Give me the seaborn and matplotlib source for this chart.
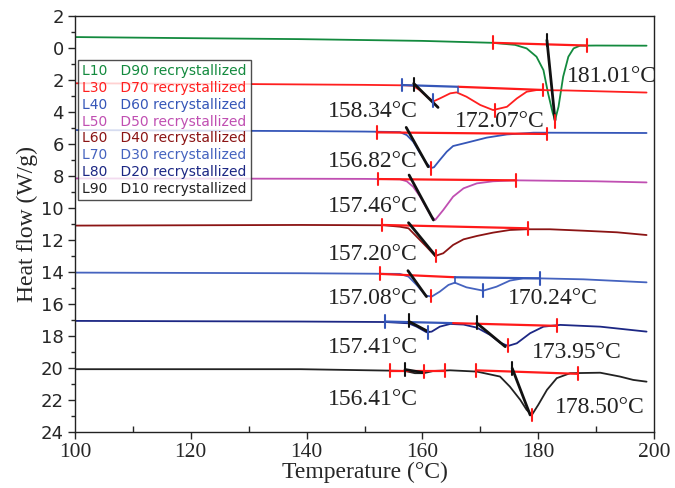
import numpy as np
import pandas as pd
import seaborn as sns
import matplotlib
matplotlib.use("Agg")
import matplotlib.pyplot as plt
from matplotlib.ticker import MultipleLocator, FuncFormatter
from matplotlib.lines import Line2D

# ---------------- data ----------------
samples = ["L10   D90 recrystallized", "L30   D70 recrystallized", "L40   D60 recrystallized",
           "L50   D50 recrystallized", "L60   D40 recrystallized", "L70   D30 recrystallized",
           "L80   D20 recrystallized", "L90   D10 recrystallized"]
colors = ["#138a3e", "#ff1f1f", "#3556b8", "#c04fb2", "#8b1414", "#4563bf", "#1c2784", "#222222"]

green_T = [100, 120, 139, 160, 172.1, 176, 178.0, 179.7, 180.9, 181.7, 182.5, 182.9, 183.5, 184.3, 185.2, 186.1, 187.2, 190, 198.7]
green_y = [-0.69, -0.62, -0.56, -0.45, -0.33, -0.2, 0.02, 0.54, 1.38, 2.83, 4.06, 4.5, 3.67, 1.79, 0.54, 0.02, -0.15, -0.16, -0.15]

red_T = [100, 130, 150, 157, 158.3, 159.5, 160.8, 161.9, 163.0, 164.8, 165.9, 167.6, 170.0, 172.2, 174.6, 176.3, 178.0, 179.7, 185, 198.7]
red_y = [2.2, 2.25, 2.3, 2.33, 2.35, 2.62, 3.05, 3.33, 3.15, 2.83, 2.77, 3.04, 3.56, 3.875, 3.67, 3.15, 2.73, 2.625, 2.65, 2.78]

blue40_T = [100, 139, 150, 156.1, 157.3, 158.4, 159.6, 160.7, 161.5, 162.0, 163.0, 164.2, 165.3, 167.6, 171.1, 174.6, 179.2, 190, 198.7]
blue40_y = [5.125, 5.19, 5.22, 5.25, 5.44, 5.85, 6.58, 7.2, 7.5, 7.45, 7.0, 6.48, 6.125, 5.92, 5.6, 5.4, 5.29, 5.3, 5.31]

mag_T = [100, 139, 150, 156.1, 157.3, 158.4, 159.6, 160.7, 161.5, 162.2, 163.6, 165.3, 167.1, 169.4, 172.2, 176.2, 190, 198.7]
mag_y = [8.15, 8.17, 8.18, 8.2, 8.33, 8.67, 9.29, 10.0, 10.5, 10.75, 10.125, 9.29, 8.77, 8.46, 8.33, 8.27, 8.33, 8.4]

dred_T = [100, 139, 153.4, 156.1, 157.6, 159.0, 160.7, 162.2, 163.6, 165.3, 167.1, 169.4, 172.2, 175.1, 178.0, 182.0, 187.8, 193.6, 198.7]
dred_y = [11.1, 11.06, 11.08, 11.17, 11.27, 11.79, 12.42, 13.0, 12.83, 12.31, 11.96, 11.75, 11.54, 11.375, 11.33, 11.33, 11.42, 11.52, 11.69]

b70_T = [100, 139, 156.1, 157.6, 159.0, 160.6, 161.6, 163.0, 164.5, 165.6, 167.6, 170.5, 172.8, 175.1, 177.4, 180.3, 187.8, 198.7]
b70_y = [14.04, 14.08, 14.12, 14.29, 14.81, 15.48, 15.54, 15.23, 14.81, 14.67, 14.96, 15.17, 14.92, 14.54, 14.4, 14.4, 14.46, 14.65]

navy_T = [100, 139, 153.6, 157.6, 159.0, 160.7, 161.6, 163.0, 164.8, 167.1, 169.4, 171.7, 173.4, 174.8, 176.3, 178.6, 180.9, 183.8, 190.7, 198.7]
navy_y = [17.06, 17.1, 17.13, 17.21, 17.42, 17.77, 17.73, 17.42, 17.25, 17.29, 17.48, 17.94, 18.42, 18.625, 18.46, 17.83, 17.42, 17.31, 17.42, 17.73]

black_T = [100, 139, 154.4, 157.0, 158.7, 160.2, 161.9, 164.8, 169.4, 173.4, 175.1, 176.9, 178.0, 178.9, 180.0, 181.5, 183.2, 185.5, 190.7, 194.1, 196.4, 198.7]
black_y = [20.08, 20.08, 20.17, 20.19, 20.33, 20.33, 20.19, 20.15, 20.23, 20.54, 21.17, 22.0, 22.625, 22.94, 22.31, 21.375, 20.64, 20.33, 20.3, 20.54, 20.75, 20.86]

curves_T = [green_T, red_T, blue40_T, mag_T, dred_T, b70_T, navy_T, black_T]
curves_y = [green_y, red_y, blue40_y, mag_y, dred_y, b70_y, navy_y, black_y]

# baselines: (T1, y1, T2, y2, colour key)
baselines = [
    (172.2, -0.33, 188.4, -0.16, "r"),
    (156.4, 2.31, 166.2, 2.42, "b"), (166.2, 2.42, 180.9, 2.62, "r"),
    (152.1, 5.27, 181.5, 5.37, "r"),
    (152.3, 8.19, 176.2, 8.27, "r"),
    (153.0, 11.06, 178.3, 11.27, "r"),
    (152.7, 14.12, 165.6, 14.33, "r"), (165.6, 14.33, 180.3, 14.4, "b"),
    (153.6, 17.1, 165.3, 17.2, "b"), (165.3, 17.2, 183.2, 17.37, "r"),
    (154.4, 20.17, 163.9, 20.17, "r"), (169.2, 20.15, 186.8, 20.37, "r"),
]
# tangents (black)
tangents = [
    (181.5, -0.5, 182.9, 4.5),
    (158.5, 2.21, 162.7, 3.71),
    (157.2, 4.96, 161.0, 7.42),
    (157.7, 7.94, 161.9, 10.75),
    (157.6, 10.92, 162.3, 13.0),
    (157.5, 13.92, 160.7, 15.54),
    (157.7, 17.1, 161.0, 17.73), (169.4, 17.2, 174.3, 18.67),
    (157.0, 20.1, 160.2, 20.3), (175.5, 20.02, 178.6, 22.94),
]
# small vertical marks: (T, y, colour key)
marks = [
    (172.2, -0.33, "r"), (188.4, -0.16, "r"), (182.9, 4.6, "r"), (181.5, -0.5, "k"),
    (156.4, 2.31, "b"), (161.9, 3.3, "b"), (180.9, 2.62, "r"), (172.5, 3.88, "r"), (158.5, 2.28, "k"),
    (152.1, 5.27, "r"), (181.5, 5.37, "r"), (161.5, 7.55, "r"),
    (152.3, 8.19, "r"), (176.2, 8.27, "r"),
    (153.0, 11.06, "r"), (178.3, 11.27, "r"), (162.3, 13.0, "r"),
    (152.7, 14.12, "r"), (161.5, 15.5, "r"), (180.3, 14.4, "b"), (170.4, 15.17, "b"),
    (153.6, 17.1, "b"), (160.9, 17.77, "b"), (183.2, 17.37, "r"), (174.8, 18.6, "r"),
    (157.7, 17.05, "k"), (169.4, 17.15, "k"),
    (154.4, 20.17, "r"), (160.2, 20.2, "r"), (163.9, 20.17, "r"), (169.2, 20.15, "r"),
    (186.8, 20.37, "r"), (178.9, 22.94, "r"), (157.0, 20.1, "k"), (175.5, 20.05, "k"),
]
# connector ticks from baseline to curve (blue)
connectors = [(166.2, 2.42, 2.77), (165.6, 14.33, 14.67)]

ann_text = ["181.01°C", "158.34°C", "172.07°C", "156.82°C", "157.46°C", "157.20°C",
            "157.08°C", "170.24°C", "157.41°C", "173.95°C", "156.41°C", "178.50°C"]
ann_T = [185.0, 143.7, 165.6, 143.7, 143.7, 143.7, 143.7, 174.8, 143.7, 178.9, 143.7, 182.9]
ann_y = [1.79, 3.98, 4.6, 7.1, 9.9, 12.9, 15.65, 15.65, 18.75, 19.06, 22.0, 22.5]

# ---------------- plotting ----------------
sns.set_style("ticks")
plt.rcParams["font.family"] = ["DejaVu Sans"]
SERIF = ["Liberation Serif", "DejaVu Serif"]

rows = []
for s, T, y in zip(samples, curves_T, curves_y):
    for t, v in zip(T, y):
        rows.append((s, t, v))
df = pd.DataFrame(rows, columns=["sample", "T", "flow"])

fig = plt.figure(figsize=(6.75, 4.88), dpi=100)
ax = fig.add_axes([0.111, 0.115, 0.858, 0.852])

sns.lineplot(data=df, x="T", y="flow", hue="sample", palette=dict(zip(samples, colors)),
             sort=False, estimator=None, legend=False, linewidth=1.3, ax=ax)

ckey = {"r": "#ff1a1a", "b": "#3556b8", "k": "#111111"}
for T1, y1, T2, y2, c in baselines:
    ax.plot([T1, T2], [y1, y2], color=ckey[c], lw=1.6, zorder=3)
for T1, y1, T2, y2 in tangents:
    ax.plot([T1, T2], [y1, y2], color="#111111", lw=2.0, zorder=4)
for T, y, c in marks:
    ax.plot([T, T], [y - 0.4, y + 0.4], color=ckey[c], lw=1.5, zorder=5)
for T, y1, y2 in connectors:
    ax.plot([T, T], [y1, y2], color=ckey["b"], lw=1.2, zorder=5)

for t, x, y in zip(ann_text, ann_T, ann_y):
    ax.text(x, y, t, ha="left", va="center", fontsize=17, family=SERIF, color="#222222")

ax.set_xlim(100, 200)
ax.set_ylim(24, -2)
ax.xaxis.set_major_locator(MultipleLocator(20))
ax.xaxis.set_minor_locator(MultipleLocator(10))
ax.yaxis.set_major_locator(MultipleLocator(2))
ax.yaxis.set_minor_locator(MultipleLocator(1))
ax.yaxis.set_major_formatter(FuncFormatter(lambda v, p: f"{abs(v):g}"))
ax.tick_params(axis="y", which="major", direction="out", length=5, width=1, labelsize=13, pad=3)
ax.tick_params(axis="y", which="minor", direction="out", length=3, width=1)
ax.tick_params(axis="x", which="major", direction="out", length=5, width=1, labelsize=15.5, pad=3)
ax.tick_params(axis="x", which="minor", direction="in", length=4, width=1)
for lab in ax.get_xticklabels():
    lab.set_family(SERIF)
for sp in ax.spines.values():
    sp.set_visible(True)
    sp.set_linewidth(1.0)
    sp.set_color("#222222")

ax.set_xlabel("Temperature (°C)", fontsize=17, family=SERIF, labelpad=0)
ax.set_ylabel("Heat flow (W/g)", fontsize=17, family=SERIF, labelpad=2)

handles = [Line2D([], [], linestyle="none") for _ in samples]
leg = ax.legend(handles, samples, loc="upper left", bbox_to_anchor=(0.005, 0.894),
                borderaxespad=0, handlelength=0, handletextpad=0, fontsize=10,
                frameon=True, fancybox=False, labelspacing=0.2, borderpad=0.3)
leg.get_frame().set_edgecolor("#222222")
leg.get_frame().set_linewidth(1.0)
for txt, c in zip(leg.get_texts(), colors):
    txt.set_color(c)

fig.savefig("out.png", dpi=100)
